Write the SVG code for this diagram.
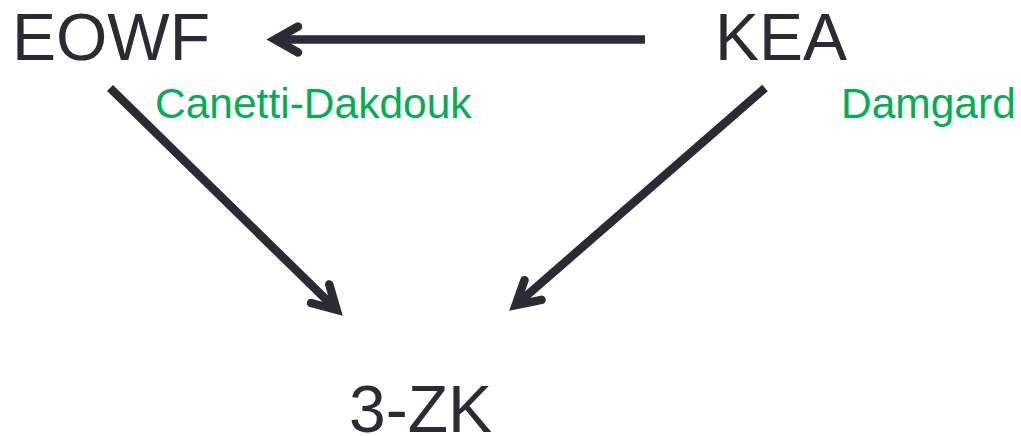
<svg xmlns="http://www.w3.org/2000/svg" width="1021" height="436" viewBox="0 0 1021 436">
  <style>
    .node { font-family: "Liberation Sans", Arial, sans-serif; font-size: 66px; fill: #2b2a35; }
    .label { font-family: "Liberation Sans", Arial, sans-serif; font-size: 42.5px; fill: #00b050; }
    .edge { stroke: #2b2a35; stroke-width: 8.5; fill: none; marker-end: url(#head); }
  </style>
  <defs>
    <marker id="head" markerUnits="userSpaceOnUse" viewBox="-40 -25 60 50" markerWidth="60" markerHeight="50" refX="0" refY="0" orient="auto" overflow="visible">
      <path d="M -23 -13 L 0 0 L -23 13" fill="none" stroke="#2b2a35" stroke-width="8.5" stroke-linecap="round" stroke-linejoin="miter"/>
    </marker>
  </defs>
  <rect width="1021" height="436" fill="#ffffff"/>

  <g id="connectors">
    <line class="edge" x1="645" y1="39.5" x2="275" y2="39.5"/>
    <line class="edge" x1="110" y1="88" x2="336.6" y2="309.8"/>
    <line class="edge" x1="765" y1="88" x2="515.7" y2="305.1"/>
  </g>

  <g id="node-eowf"><text class="node" x="12" y="60">EOWF</text></g>
  <g id="node-kea"><text class="node" x="715" y="60">KEA</text></g>
  <g id="node-3zk"><text class="node" x="349" y="432">3-ZK</text></g>

  <g id="label-canetti"><text class="label" x="155" y="118">Canetti-Dakdouk</text></g>
  <g id="label-damgard"><text class="label" x="841" y="118">Damgard</text></g>
</svg>
